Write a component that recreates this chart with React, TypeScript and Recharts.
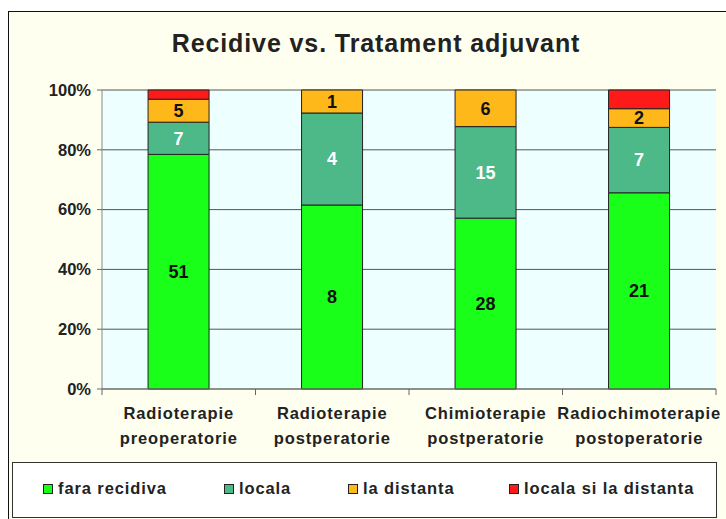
import React from "react";
import { BarChart, Bar, XAxis, YAxis, CartesianGrid, LabelList } from "recharts";

const categories = ["Radioterapie preoperatorie", "Radioterapie postperatorie", "Chimioterapie postperatorie", "Radiochimoterapie postoperatorie"];
const faraRecidiva = [51, 8, 28, 21];
const locala = [7, 4, 15, 7];
const laDistanta = [5, 1, 6, 2];
const localaSiLaDistanta = [2, 0, 0, 2];
const yTicks = [0, 0.2, 0.4, 0.6, 0.8, 1];
const seriesNames = ["fara recidiva", "locala", "la distanta", "locala si la distanta"];
const seriesKeys = ["fara", "locala", "distanta", "ambele"];
const seriesColors = ["#1AFF1A", "#4DB888", "#FFB81A", "#FF1A1A"];

const data = categories.map((c, i) => ({
  name: c,
  fara: faraRecidiva[i],
  locala: locala[i],
  distanta: laDistanta[i],
  ambele: localaSiLaDistanta[i],
}));

const FONT = "'Liberation Sans', Arial, sans-serif";

const XTick = (props: any) => {
  const { x, y, payload, index, width, visibleTicksCount } = props;
  const band = (width || 614) / (visibleTicksCount || 4);
  const words = String(payload.value).split(" ");
  return (
    <g>
      <line x1={x + band / 2} x2={x + band / 2} y1={y - 6} y2={y} stroke="#666" />
      {index === 0 && <line x1={x - band / 2} x2={x - band / 2} y1={y - 6} y2={y} stroke="#666" />}
      <text x={x} y={y} textAnchor="middle" fontFamily={FONT} fontWeight="bold" fontSize={16.5} fill="#222" letterSpacing={0.9}>
        <tspan x={x} dy={23.5}>{words[0]}</tspan>
        <tspan x={x} dy={25}>{words[1]}</tspan>
      </text>
    </g>
  );
};

const LegendBox = () => {
  const xs = [30, 211, 335, 496];
  return (
    <div style={{ position: "absolute", left: 12, top: 462, width: 705, height: 56, border: "1px solid #333", background: "#FFFFFF", boxSizing: "border-box" }}>
      {seriesNames.map((n, i) => (
        <div key={n} style={{ position: "absolute", left: xs[i], top: 16, display: "flex", alignItems: "center", fontFamily: FONT, fontWeight: "bold", fontSize: 16.5, letterSpacing: 0.9, color: "#222", whiteSpace: "nowrap" }}>
          <span style={{ display: "inline-block", width: 8, height: 8, background: seriesColors[i], border: "1px solid #222", marginRight: 5 }} />
          <span>{n}</span>
        </div>
      ))}
    </div>
  );
};

export default function App() {
  return (
    <div style={{ position: "absolute", left: 0, top: 0, width: 726, height: 519, background: "#FFFFFF", overflow: "hidden" }}>
      <div style={{ position: "absolute", left: 8, top: 11, width: 800, height: 600, border: "1px solid #111", background: "#FFFFF0" }} />
      <div style={{ position: "absolute", left: 0, top: 29, width: 752, textAlign: "center", fontFamily: FONT, fontWeight: "bold", fontSize: 25, letterSpacing: 0.9, color: "#222" }}>
        Recidive vs. Tratament adjuvant
      </div>
      <div style={{ position: "absolute", left: 0, top: 0 }}>
        <BarChart width={726} height={519} data={data} stackOffset="expand" barCategoryGap="30%" margin={{ top: 90, right: 10, left: 2, bottom: 70 }}>
          <CartesianGrid vertical={false} stroke="#555" fill="#EEFFFF" fillOpacity={1} />
          <XAxis dataKey="name" height={60} tickSize={6} tickMargin={0} tickLine={false} axisLine={{ stroke: "#777" }} tick={<XTick />} interval={0} />
          <YAxis width={100} ticks={yTicks} domain={[0, 1]} tickFormatter={(v: number) => `${Math.round(v * 100)}%`} tickSize={5} tickMargin={6} tickLine={{ stroke: "#666" }} axisLine={{ stroke: "#888" }} tick={{ fontFamily: FONT, fontWeight: "bold", fontSize: 16.5, fill: "#222" }} />
          <YAxis yAxisId="r" orientation="right" width={0} domain={[0, 1]} tick={false} tickLine={false} axisLine={{ stroke: "#999" }} />
          {seriesKeys.map((k, i) => (
            <Bar key={k} dataKey={k} name={seriesNames[i]} stackId="a" fill={seriesColors[i]} stroke="#222" strokeWidth={1} isAnimationActive={false}>
              {i < 3 && (
                <LabelList dataKey={k} position="center" style={{ fontFamily: FONT, fontWeight: "bold", fontSize: 18, fill: i === 1 ? "#FFFFFF" : "#111" }} formatter={(v: any) => (v ? v : "")} />
              )}
            </Bar>
          ))}
        </BarChart>
      </div>
      <LegendBox />
    </div>
  );
}
